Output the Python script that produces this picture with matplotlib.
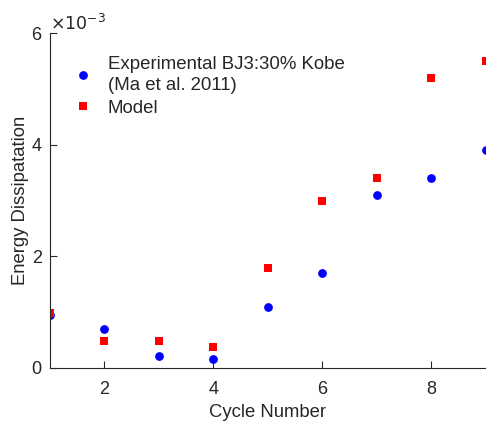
import matplotlib
matplotlib.use("Agg")
import matplotlib.pyplot as plt

plt.rcParams['font.family'] = ['Liberation Sans', 'DejaVu Sans']

cycles = [1, 2, 3, 4, 5, 6, 7, 8, 9]
experimental = [0.95e-3, 0.70e-3, 0.21e-3, 0.17e-3, 1.10e-3, 1.70e-3, 3.10e-3, 3.40e-3, 3.91e-3]
model = [0.99e-3, 0.49e-3, 0.48e-3, 0.37e-3, 1.80e-3, 3.00e-3, 3.40e-3, 5.20e-3, 5.50e-3]
xticks = [2, 4, 6, 8]
yticks = [0, 0.002, 0.004, 0.006]

fig = plt.figure(figsize=(4.86, 4.26), dpi=100)
ax = fig.add_axes([50/486, (426-368)/426, 1 - 50/486 - 0.001, (368-33)/426])

ax.plot(cycles, experimental, 'o', color='#0000ff', markersize=6.3, markeredgewidth=0,
        label='Experimental BJ3:30% Kobe\n(Ma et al. 2011)')
ax.plot(cycles, model, 's', color='#ff0000', markersize=5.2, markeredgewidth=0, label='Model')

ax.set_xlim(1, 9)
ax.set_ylim(0, 0.006)
ax.set_xticks(xticks)
ax.set_yticks(yticks)
ax.set_yticklabels(['0', '2', '4', '6'])
ax.text(0.0, 1.0, r'$\times10^{-3}$', transform=ax.transAxes, ha='left', va='bottom',
        fontsize=12.5, color='#262626')

for s in ['top', 'right']:
    ax.spines[s].set_visible(False)
for s in ['left', 'bottom']:
    ax.spines[s].set_color('#262626')
    ax.spines[s].set_linewidth(0.8)
ax.tick_params(direction='in', length=5, width=0.8, colors='#262626', labelsize=13)
ax.tick_params(axis='x', pad=9)
ax.tick_params(axis='y', pad=6)

ax.set_xlabel('Cycle Number', fontsize=13.3, color='#262626', labelpad=5)
ax.set_ylabel('Energy Dissipatation', fontsize=13.3, color='#262626', labelpad=2)

leg = ax.legend(loc='upper left', bbox_to_anchor=(0.037, 0.955), borderaxespad=0, frameon=False,
                fontsize=13.4, handlelength=1.0, handletextpad=0.85, labelspacing=0.3,
                numpoints=1, labelcolor='#262626')
for t in leg.get_texts():
    t.set_linespacing(1.35)

fig.savefig('out.png', dpi=100)
